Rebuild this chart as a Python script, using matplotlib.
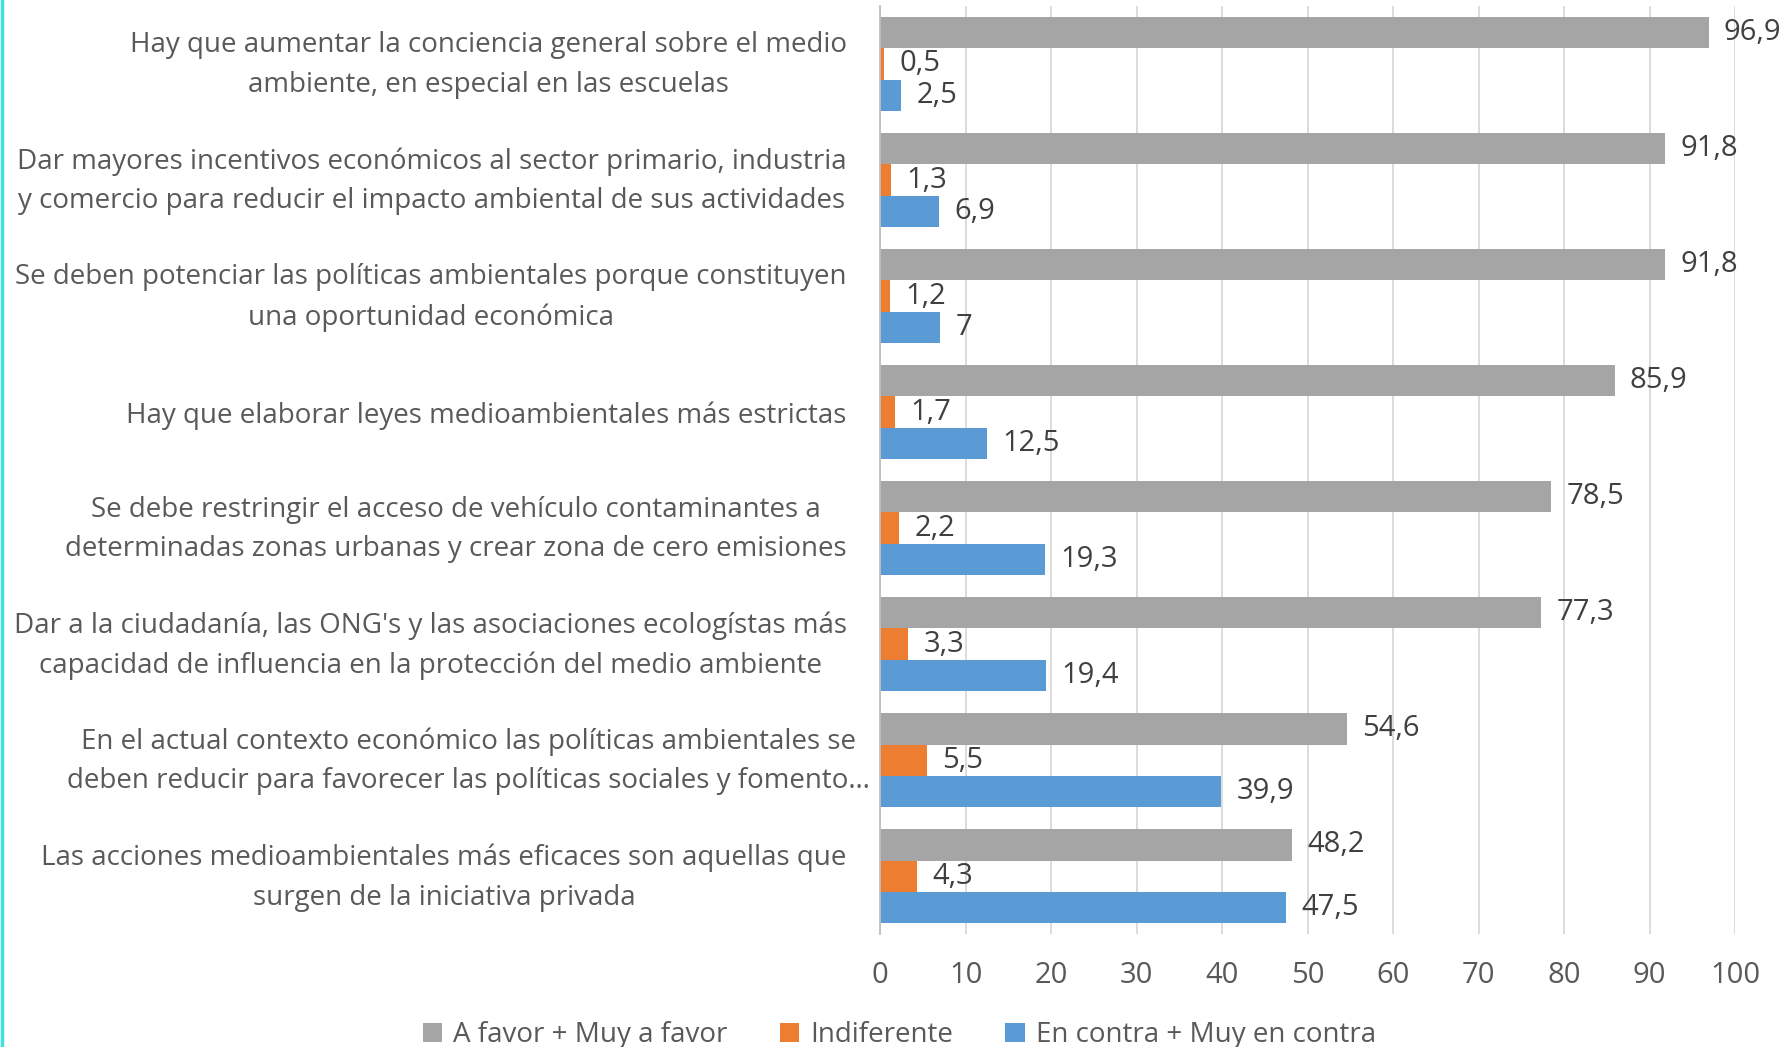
import matplotlib
matplotlib.use("Agg")
import matplotlib.pyplot as plt
from matplotlib.lines import Line2D
from matplotlib.transforms import ScaledTranslation
import numpy as np

plt.rcParams["font.family"] = ["Open Sans", "DejaVu Sans"]

categories = [
    "Hay que aumentar la conciencia general sobre el medio\nambiente, en especial en las escuelas",
    "Dar mayores incentivos económicos al sector primario, industria\ny comercio para reducir el impacto ambiental de sus actividades",
    "Se deben potenciar las políticas ambientales porque constituyen\nuna oportunidad económica",
    "Hay que elaborar leyes medioambientales más estrictas",
    "Se debe restringir el acceso de vehículo contaminantes a\ndeterminadas zonas urbanas y crear zona de cero emisiones",
    "Dar a la ciudadanía, las ONG's y las asociaciones ecologístas más\ncapacidad de influencia en la protección del medio ambiente",
    "En el actual contexto económico las políticas ambientales se\ndeben reducir para favorecer las políticas sociales y fomento…",
    "Las acciones medioambientales más eficaces son aquellas que\nsurgen de la iniciativa privada",
]
a_favor = [96.9, 91.8, 91.8, 85.9, 78.5, 77.3, 54.6, 48.2]
indiferente = [0.5, 1.3, 1.2, 1.7, 2.2, 3.3, 5.5, 4.3]
en_contra = [2.5, 6.9, 7.0, 12.5, 19.3, 19.4, 39.9, 47.5]
series_names = ["A favor + Muy a favor", "Indiferente", "En contra + Muy en contra"]
colors = ["#A5A5A5", "#ED7D31", "#5B9BD5"]

fig = plt.figure(figsize=(17.88, 10.47), dpi=100)
ax = fig.add_axes([0.4922, 0.1077, 0.4782, 0.8866])

y = np.arange(len(categories))
h = 0.27
fs = 20
for k, (vals, name, c) in enumerate(zip([a_favor, indiferente, en_contra], series_names, colors)):
    bars = ax.barh(y + (k - 1) * h, vals, height=h, color=c, label=name)
    for b, v in zip(bars, vals):
        txt = f"{v:g}".replace(".", ",")
        ax.annotate(txt, (v, b.get_y() + b.get_height() / 2), xytext=(11, 0),
                    textcoords="offset points", va="center", ha="left",
                    fontsize=21, color="#404040")

ax.set_xlim(0, 100)
ax.set_ylim(len(categories) - 0.5, -0.5)
ax.set_xticks(np.arange(0, 101, 10))
ax.set_yticks(y)
ax.set_yticklabels(categories, fontsize=fs, color="#595959", ha="right",
                   multialignment="center", linespacing=1.55)
ax.tick_params(axis="y", length=0, pad=24)
ax.tick_params(axis="x", length=0, pad=19, labelsize=21, labelcolor="#595959")
ax.grid(axis="x", color="#D9D9D9", linewidth=1.3)
ax.set_axisbelow(True)
for s in ["top", "right", "bottom"]:
    ax.spines[s].set_visible(False)
ax.spines["left"].set_color("#BFBFBF")
ax.spines["left"].set_linewidth(1.3)

# two-line labels sit a bit higher; the truncated one sticks out to the right
for i, lbl in enumerate(ax.get_yticklabels()):
    dx = 0.23 if i == 6 else 0.0
    dy = 0.08 if "\n" in categories[i] else 0.0
    lbl.set_transform(lbl.get_transform() + ScaledTranslation(dx, dy, fig.dpi_scale_trans))

fig.legend(loc="center", bbox_to_anchor=(0.503, 0.011), ncol=3, frameon=False,
           fontsize=fs, labelcolor="#595959", handlelength=0.7, handleheight=0.7,
           handletextpad=0.4, columnspacing=1.87)

fig.add_artist(Line2D([0.001, 0.001], [0, 1], color="#40E0E0", linewidth=2.5,
                      transform=fig.transFigure))

fig.savefig("out.png", dpi=100)
